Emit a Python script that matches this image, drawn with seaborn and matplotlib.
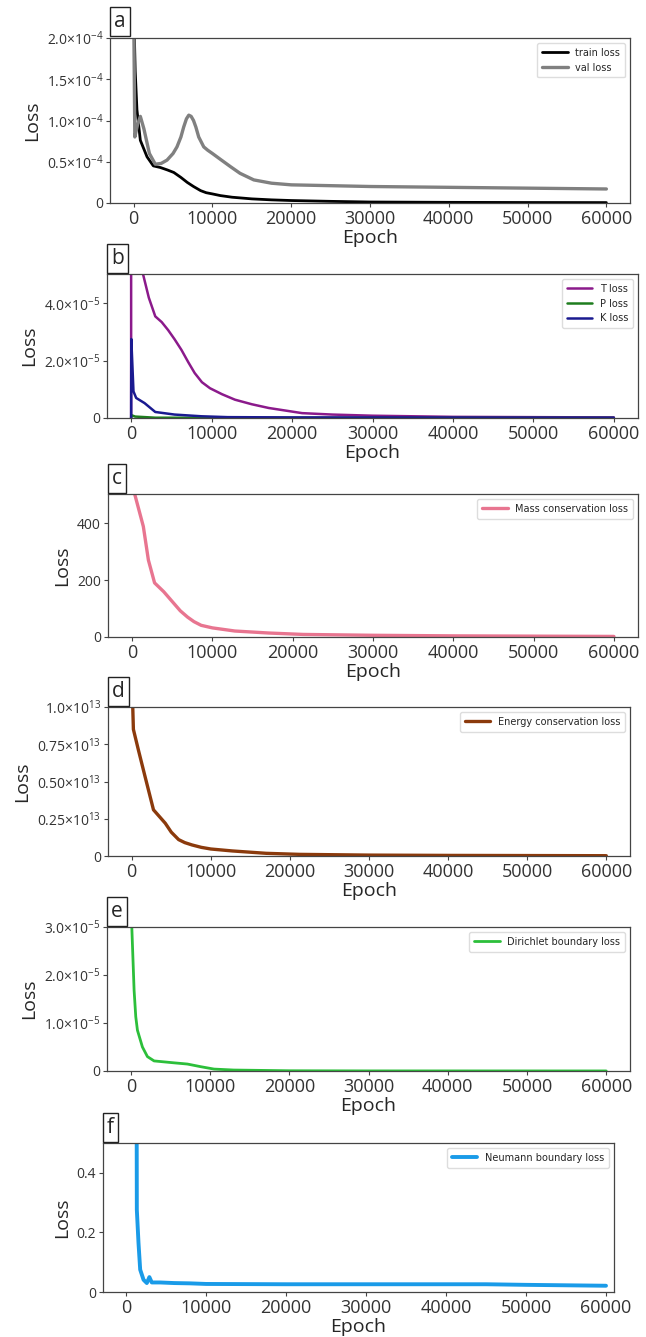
import matplotlib
matplotlib.use("Agg")
import matplotlib.pyplot as plt
import seaborn as sns

# panel a: train / val loss
a_train_epoch = [0, 200, 420, 850, 1700, 2500, 3400, 4300, 5100, 6000, 6800, 7600, 8500, 9200,
                 10000, 11000, 12500, 15000, 17500, 20000, 25000, 30000, 40000, 50000, 60000]
a_train = [2.4e-4, 1.6e-4, 1.13e-4, 0.76e-4, 0.56e-4, 0.45e-4, 0.43e-4, 0.40e-4, 0.37e-4, 0.31e-4,
           0.25e-4, 0.2e-4, 0.15e-4, 0.125e-4, 0.11e-4, 0.09e-4, 0.07e-4, 0.05e-4, 0.038e-4,
           0.03e-4, 0.02e-4, 0.012e-4, 0.008e-4, 0.006e-4, 0.005e-4]
a_val_epoch = [0, 150, 500, 850, 1300, 2000, 2750, 3500, 4240, 5000, 5500, 6000, 6350, 6700, 7000,
               7300, 7600, 7900, 8260, 8900, 9400, 10000, 11000, 12300, 13500, 15250, 17500, 20000,
               25000, 30000, 40000, 50000, 60000]
a_val = [2.4e-4, 0.8e-4, 0.95e-4, 1.05e-4, 0.9e-4, 0.6e-4, 0.47e-4, 0.48e-4, 0.52e-4, 0.6e-4,
         0.68e-4, 0.8e-4, 0.92e-4, 1.02e-4, 1.065e-4, 1.05e-4, 1.0e-4, 0.92e-4, 0.8e-4, 0.68e-4,
         0.64e-4, 0.6e-4, 0.53e-4, 0.44e-4, 0.36e-4, 0.28e-4, 0.24e-4, 0.22e-4, 0.21e-4, 0.2e-4,
         0.19e-4, 0.18e-4, 0.17e-4]

# panel b: T / P / K loss
b_t_epoch = [0, 20, 1000, 1500, 2200, 3000, 3800, 4600, 5400, 6250, 7100, 7900, 8800, 9800, 11300,
             12900, 15000, 17100, 21250, 25000, 30000, 40000, 50000, 60000]
b_t = [0, 2e-3, 6.0e-5, 5.0e-5, 4.2e-5, 3.55e-5, 3.35e-5, 3.07e-5, 2.75e-5, 2.38e-5, 1.95e-5,
       1.57e-5, 1.25e-5, 1.04e-5, 0.83e-5, 0.64e-5, 0.48e-5, 0.35e-5, 0.17e-5, 0.12e-5, 0.08e-5,
       0.04e-5, 0.03e-5, 0.02e-5]
b_p_epoch = [0, 20, 500, 3000, 60000]
b_p = [0, 0.1e-5, 0.05e-5, 0.01e-5, 0.002e-5]
b_k_epoch = [0, 20, 290, 625, 1670, 3000, 5400, 8750, 12000, 20000, 60000]
b_k = [0, 2.76e-5, 0.93e-5, 0.7e-5, 0.52e-5, 0.21e-5, 0.12e-5, 0.06e-5, 0.03e-5, 0.02e-5, 0.01e-5]

# panel c: mass conservation
c_epoch = [0, 340, 1400, 2030, 2800, 3940, 5200, 6000, 6900, 7700, 8600, 10000, 12800, 17000,
           21300, 30000, 40000, 50000, 60000]
c_mass = [540, 500, 388, 270, 190, 159, 118, 92, 70, 54, 41, 32, 21, 14, 9, 6, 4, 3, 2]

# panel d: energy conservation
d_epoch = [0, 130, 210, 850, 1700, 2750, 4240, 5000, 5930, 6700, 7630, 8800, 10000, 12700, 17000,
           21200, 30000, 40000, 50000, 60000]
d_energy = [1.15e13, 1.0e13, 0.85e13, 0.71e13, 0.53e13, 0.31e13, 0.22e13, 0.16e13, 0.11e13,
            0.09e13, 0.074e13, 0.058e13, 0.047e13, 0.034e13, 0.018e13, 0.011e13, 0.006e13,
            0.004e13, 0.003e13, 0.002e13]

# panel e: Dirichlet boundary
e_epoch = [0, 130, 420, 630, 840, 1470, 2100, 2940, 5460, 7140, 8820, 10500, 13000, 20000, 30000,
           60000]
e_dir = [3.5e-5, 3.0e-5, 1.68e-5, 1.13e-5, 0.85e-5, 0.5e-5, 0.3e-5, 0.21e-5, 0.17e-5, 0.145e-5,
         0.09e-5, 0.04e-5, 0.02e-5, 0.005e-5, 0.002e-5, 0.001e-5]

# panel f: Neumann boundary
f_epoch = [1250, 1330, 1540, 1750, 2170, 2580, 2900, 3200, 4250, 6000, 8000, 10000, 20000, 30000,
           40000, 45000, 50000, 60000]
f_neu = [1.5, 0.276, 0.164, 0.075, 0.041, 0.030, 0.05, 0.032, 0.032, 0.030, 0.029, 0.027, 0.026,
         0.026, 0.026, 0.026, 0.024, 0.021]

x_ticks = [0, 10000, 20000, 30000, 40000, 50000, 60000]

sns.set_style("ticks")
plt.rcParams["font.family"] = ["Open Sans", "DejaVu Sans"]
plt.rcParams["mathtext.fontset"] = "custom"
plt.rcParams["mathtext.rm"] = "Open Sans"
plt.rcParams["mathtext.it"] = "Open Sans:italic"

W, H = 646, 1337
fig = plt.figure(figsize=(W / 100, H / 100), dpi=100)


def make_ax(x0, y0, x1, y1):
    return fig.add_axes([x0 / W, 1 - y1 / H, (x1 - x0) / W, (y1 - y0) / H])


def sci(m, e):
    return r"$%s{\times}10^{%d}$" % (m, e)


def style(ax, letter, ylim, yticks, ylabels, xlim=(-3000, 63000)):
    ax.set_xlim(*xlim)
    ax.set_ylim(*ylim)
    ax.set_xticks(x_ticks)
    ax.set_xticklabels([str(t) for t in x_ticks], fontsize=13, color="#333333")
    ax.set_yticks(yticks)
    ax.set_yticklabels(ylabels, fontsize=10, color="#333333")
    ax.set_xlabel("Epoch", fontsize=14, labelpad=1)
    ax.set_ylabel("Loss", fontsize=14)
    for s in ax.spines.values():
        s.set_color("#444444")
        s.set_linewidth(0.9)
    ax.tick_params(length=3, width=0.8, color="#444444", pad=2)
    ax.legend(loc="upper right", frameon=True, handlelength=2.6, borderpad=0.5,
              framealpha=1, edgecolor="#dddddd",
              prop={"family": ["DejaVu Sans"], "size": 7})
    ax.text(0.008, 1.035, letter, transform=ax.transAxes, fontsize=15, va="bottom", ha="left",
            bbox=dict(boxstyle="square,pad=0.2", fc="white", ec="#222222", lw=1))


ax = make_ax(110, 38, 630, 203)
sns.lineplot(x=a_train_epoch, y=a_train, ax=ax, color="black", lw=2, label="train loss")
sns.lineplot(x=a_val_epoch, y=a_val, ax=ax, color="#808080", lw=2.4, label="val loss")
style(ax, "a", (0, 2e-4), [0, 0.5e-4, 1e-4, 1.5e-4, 2e-4],
      ["0", sci("0.5", -4), sci("1.0", -4), sci("1.5", -4), sci("2.0", -4)])

ax = make_ax(107, 274, 638, 418)
sns.lineplot(x=b_t_epoch, y=b_t, ax=ax, color="#8b1a8b", lw=1.8, label="T loss")
sns.lineplot(x=b_p_epoch, y=b_p, ax=ax, color="#1e7d1e", lw=1.8, label="P loss")
sns.lineplot(x=b_k_epoch, y=b_k, ax=ax, color="#1a1a90", lw=1.8, label="K loss")
style(ax, "b", (0, 5.03e-5), [0, 2e-5, 4e-5], ["0", sci("2.0", -5), sci("4.0", -5)])

ax = make_ax(108, 494, 638, 637)
sns.lineplot(x=c_epoch, y=c_mass, ax=ax, color="#e87590", lw=2.4, label="Mass conservation loss")
style(ax, "c", (0, 502), [0, 200, 400], ["0", "200", "400"])

ax = make_ax(108, 707, 630, 856)
sns.lineplot(x=d_epoch, y=d_energy, ax=ax, color="#8b3a0c", lw=2.4, label="Energy conservation loss")
style(ax, "d", (0, 1e13), [0, 0.25e13, 0.5e13, 0.75e13, 1e13],
      ["0", sci("0.25", 13), sci("0.50", 13), sci("0.75", 13), sci("1.0", 13)])

ax = make_ax(107, 927, 630, 1071)
sns.lineplot(x=e_epoch, y=e_dir, ax=ax, color="#2cbf3a", lw=2, label="Dirichlet boundary loss")
style(ax, "e", (0, 3e-5), [0, 1e-5, 2e-5, 3e-5],
      ["0", sci("1.0", -5), sci("2.0", -5), sci("3.0", -5)])

ax = make_ax(103, 1143, 614, 1292)
sns.lineplot(x=f_epoch, y=f_neu, ax=ax, color="#1a9be8", lw=2.8, label="Neumann boundary loss")
style(ax, "f", (0, 0.5), [0, 0.2, 0.4], ["0", "0.2", "0.4"], xlim=(-2900, 61000))

fig.savefig("out.png", dpi=100)
